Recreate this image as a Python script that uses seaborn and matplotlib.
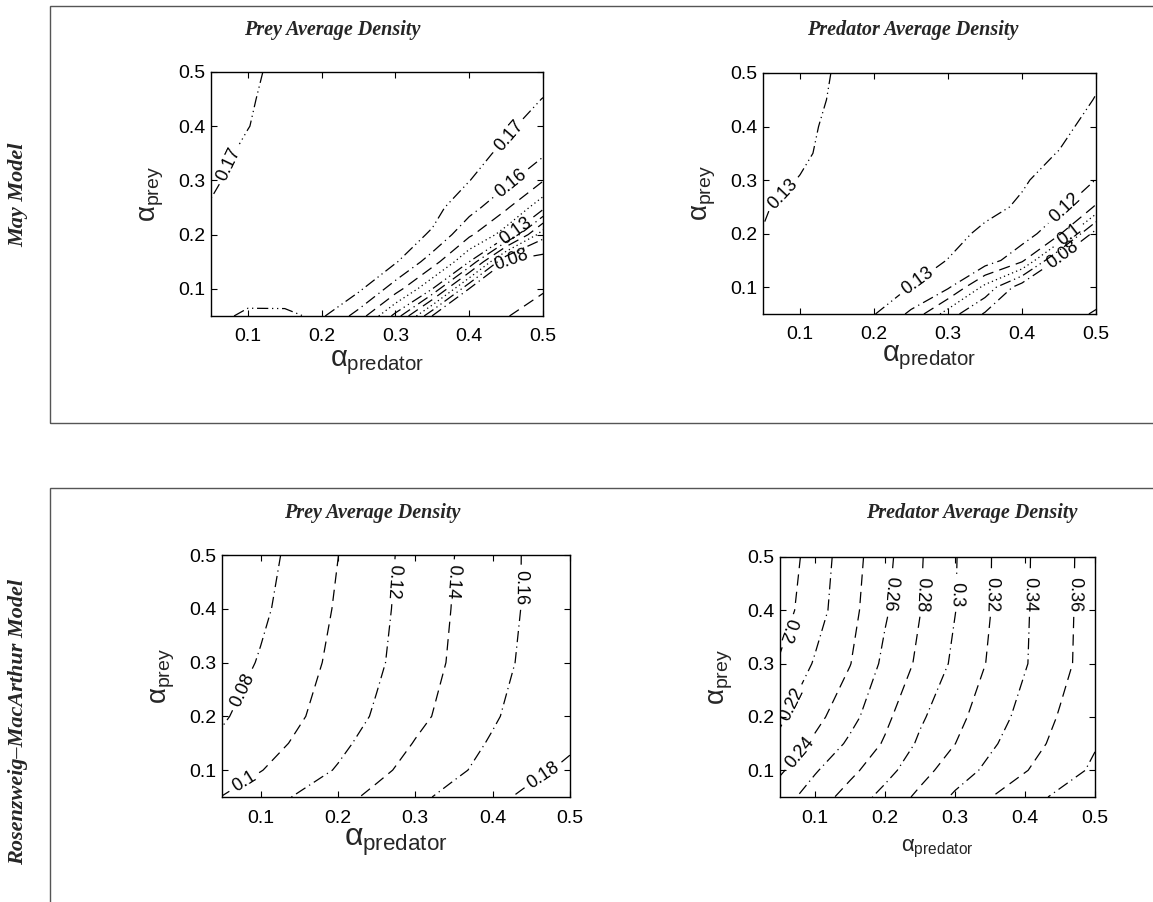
import numpy as np
import matplotlib
matplotlib.use('Agg')
import matplotlib.pyplot as plt
from matplotlib.patches import Rectangle
import seaborn as sns

# grid of the parameter sweep
alpha_predator = [0.05, 0.10, 0.15, 0.20, 0.25, 0.30, 0.35, 0.40, 0.45, 0.50]
alpha_prey_may = [0.05, 0.10, 0.15, 0.20, 0.25, 0.30, 0.35, 0.40, 0.45, 0.50]
alpha_prey_rm = [0.05, 0.10, 0.15, 0.20, 0.30, 0.40, 0.50]

# May model, prey average density (rows = alpha_prey, cols = alpha_predator)
may_prey = [
    [0.1720, 0.1688, 0.1685, 0.1715, 0.1560, 0.1267, 0.0795, 0.0750, 0.0705, 0.0650],
    [0.1710, 0.1730, 0.1740, 0.1740, 0.1720, 0.1550, 0.1300, 0.0795, 0.0750, 0.0710],
    [0.1715, 0.1740, 0.1750, 0.1750, 0.1740, 0.1710, 0.1550, 0.1300, 0.0780, 0.0750],
    [0.1720, 0.1745, 0.1755, 0.1755, 0.1752, 0.1745, 0.1690, 0.1520, 0.1350, 0.0930],
    [0.1705, 0.1750, 0.1760, 0.1760, 0.1755, 0.1748, 0.1730, 0.1640, 0.1515, 0.1330],
    [0.1690, 0.1725, 0.1765, 0.1765, 0.1760, 0.1752, 0.1735, 0.1702, 0.1625, 0.1505],
    [0.1675, 0.1715, 0.1755, 0.1765, 0.1765, 0.1760, 0.1745, 0.1725, 0.1685, 0.1615],
    [0.1655, 0.1698, 0.1735, 0.1755, 0.1762, 0.1765, 0.1760, 0.1745, 0.1715, 0.1660],
    [0.1645, 0.1692, 0.1728, 0.1750, 0.1760, 0.1765, 0.1765, 0.1755, 0.1740, 0.1698],
    [0.1640, 0.1685, 0.1722, 0.1745, 0.1758, 0.1765, 0.1768, 0.1765, 0.1755, 0.1735],
]

# May model, predator average density
may_pred = [
    [0.1315, 0.1320, 0.1325, 0.1305, 0.1180, 0.0950, 0.0788, 0.0756, 0.0725, 0.0694],
    [0.1310, 0.1325, 0.1335, 0.1335, 0.1298, 0.1215, 0.0970, 0.0740, 0.0735, 0.0730],
    [0.1305, 0.1325, 0.1340, 0.1345, 0.1335, 0.1298, 0.1260, 0.1120, 0.0770, 0.0740],
    [0.1302, 0.1325, 0.1345, 0.1350, 0.1345, 0.1325, 0.1285, 0.1255, 0.1120, 0.0750],
    [0.1295, 0.1320, 0.1340, 0.1350, 0.1350, 0.1340, 0.1320, 0.1290, 0.1225, 0.1090],
    [0.1285, 0.1302, 0.1325, 0.1340, 0.1345, 0.1340, 0.1330, 0.1308, 0.1270, 0.1198],
    [0.1275, 0.1292, 0.1315, 0.1330, 0.1340, 0.1340, 0.1335, 0.1320, 0.1298, 0.1245],
    [0.1270, 0.1285, 0.1315, 0.1325, 0.1335, 0.1340, 0.1340, 0.1332, 0.1315, 0.1280],
    [0.1265, 0.1280, 0.1308, 0.1322, 0.1332, 0.1338, 0.1340, 0.1335, 0.1322, 0.1298],
    [0.1260, 0.1275, 0.1305, 0.1320, 0.1330, 0.1335, 0.1338, 0.1335, 0.1325, 0.1308],
]

# Rosenzweig-MacArthur model, prey average density
rm_prey = [
    [0.1005, 0.1110, 0.1223, 0.1338, 0.1448, 0.1558, 0.1654, 0.1744, 0.1856, 0.1956],
    [0.0880, 0.0993, 0.1103, 0.1216, 0.1353, 0.1466, 0.1566, 0.1660, 0.1750, 0.1844],
    [0.0830, 0.0914, 0.1033, 0.1152, 0.1280, 0.1410, 0.1516, 0.1620, 0.1720, 0.1765],
    [0.0780, 0.0880, 0.0980, 0.1099, 0.1223, 0.1350, 0.1468, 0.1578, 0.1688, 0.1780],
    [0.0702, 0.0816, 0.0930, 0.1048, 0.1170, 0.1300, 0.1426, 0.1536, 0.1646, 0.1756],
    [0.0636, 0.0764, 0.0892, 0.1020, 0.1150, 0.1280, 0.1410, 0.1520, 0.1630, 0.1750],
    [0.0595, 0.0730, 0.0865, 0.0998, 0.1135, 0.1270, 0.1398, 0.1514, 0.1630, 0.1740],
]

# Rosenzweig-MacArthur model, predator average density
rm_pred = [
    [0.2513, 0.2695, 0.2881, 0.3067, 0.3246, 0.3432, 0.3594, 0.3719, 0.3842, 0.3966],
    [0.2370, 0.2582, 0.2750, 0.2930, 0.3129, 0.3300, 0.3448, 0.3589, 0.3712, 0.3834],
    [0.2240, 0.2440, 0.2636, 0.2822, 0.3033, 0.3198, 0.3367, 0.3514, 0.3656, 0.3785],
    [0.2172, 0.2340, 0.2538, 0.2756, 0.2970, 0.3143, 0.3306, 0.3464, 0.3615, 0.3765],
    [0.2020, 0.2218, 0.2393, 0.2646, 0.2840, 0.3038, 0.3223, 0.3387, 0.3544, 0.3700],
    [0.1913, 0.2121, 0.2335, 0.2575, 0.2795, 0.2995, 0.3195, 0.3379, 0.3538, 0.3694],
    [0.1870, 0.2093, 0.2311, 0.2541, 0.2781, 0.2988, 0.3192, 0.3375, 0.3534, 0.3691],
]

may_prey_levels = [0.07, 0.08, 0.09, 0.10, 0.11, 0.12, 0.13, 0.14, 0.15, 0.16, 0.17]
may_pred_levels = [0.07, 0.08, 0.09, 0.10, 0.11, 0.12, 0.13]
rm_prey_levels = [0.08, 0.10, 0.12, 0.14, 0.16, 0.18]
rm_pred_levels = [0.20, 0.22, 0.24, 0.26, 0.28, 0.30, 0.32, 0.34, 0.36, 0.38]

may_prey_labeled = [0.08, 0.13, 0.16, 0.17]
may_pred_labeled = [0.08, 0.10, 0.12, 0.13]
rm_prey_labeled = [0.08, 0.10, 0.12, 0.14, 0.16, 0.18]
rm_pred_labeled = [0.20, 0.22, 0.24, 0.26, 0.28, 0.30, 0.32, 0.34, 0.36]

# line styles (MATLAB-like black contour lines)
DASH = (0, (9, 5))
DASHDOT = (0, (9, 3.5, 1, 3.5))
DASHDOTDOT = (0, (9, 3, 1, 3, 1, 3))
DOT = (0, (1, 2.5))
top_cycle = [DASH, DASHDOT, DASHDOTDOT, DOT]

sns.set_style('ticks')
plt.rcParams['font.family'] = ['Liberation Sans', 'DejaVu Sans']
plt.rcParams['mathtext.fontset'] = 'custom'
plt.rcParams['mathtext.rm'] = 'Liberation Sans'
plt.rcParams['mathtext.it'] = 'Liberation Sans'
plt.rcParams['mathtext.bf'] = 'Liberation Sans:bold'


def fmt(v):
    return f'{v:.2f}'.rstrip('0')


def is_in(v, seq):
    return any(abs(v - q) < 1e-9 for q in seq)


def draw_panel(ax, ygrid, table, levels, styles, labeled, spots, xsize, ysize, xpad=0):
    z = np.array(table)
    plain = [(lv, st) for lv, st in zip(levels, styles) if not is_in(lv, labeled)]
    named = [(lv, st) for lv, st in zip(levels, styles) if is_in(lv, labeled)]
    if plain:
        ax.contour(alpha_predator, ygrid, z, levels=[p[0] for p in plain],
                   colors='k', linewidths=0.9, linestyles=[p[1] for p in plain])
    cs = ax.contour(alpha_predator, ygrid, z, levels=[p[0] for p in named],
                    colors='k', linewidths=0.9, linestyles=[p[1] for p in named])
    texts = ax.clabel(cs, manual=spots, inline=True, fontsize=13, fmt=fmt)
    # MATLAB writes labels on upright lines reading downwards
    for t in texts:
        r = t.get_rotation()
        if 70 < r < 110:
            t.set_rotation(r + 180)
    ax.set_xlim(0.05, 0.5)
    ax.set_ylim(0.05, 0.5)
    ax.set_xticks([0.1, 0.2, 0.3, 0.4, 0.5])
    ax.set_yticks([0.1, 0.2, 0.3, 0.4, 0.5])
    ax.tick_params(direction='in', top=True, right=True, length=4, width=0.8,
                   labelsize=14, colors='k')
    ax.tick_params(axis='x', pad=9)
    ax.tick_params(axis='y', pad=4)
    for s in ax.spines.values():
        s.set_linewidth(1.0)
        s.set_color('k')
    ax.set_xlabel(r'$\alpha_{\mathrm{predator}}$', fontsize=xsize, labelpad=xpad)
    ax.set_ylabel(r'$\alpha_{\mathrm{prey}}$', fontsize=ysize, labelpad=9)


fig = plt.figure(figsize=(11.53, 9.02), dpi=100)

# the two framed blocks
for (x0, y0, w, h) in [(0.0434, 0.531, 1.0, 0.4625), (0.0434, -0.05, 1.0, 0.509)]:
    fig.add_artist(Rectangle((x0, y0), w, h, transform=fig.transFigure,
                             fill=False, edgecolor='#555555', linewidth=1.0))

ax_tl = fig.add_axes([0.183, 0.6497, 0.288, 0.2705])
ax_tr = fig.add_axes([0.6618, 0.6519, 0.2888, 0.2672])
ax_bl = fig.add_axes([0.1925, 0.1164, 0.3018, 0.2683])
ax_br = fig.add_axes([0.6765, 0.1164, 0.2732, 0.2661])

draw_panel(ax_tl, alpha_prey_may, may_prey, may_prey_levels,
           [top_cycle[i % 4] for i in range(len(may_prey_levels))],
           may_prey_labeled,
           [(0.075, 0.33), (0.46, 0.375), (0.462, 0.285), (0.46, 0.212), (0.455, 0.168)],
           21, 20, xpad=2)
draw_panel(ax_tr, alpha_prey_may, may_pred, may_pred_levels,
           [top_cycle[i % 4] for i in range(len(may_pred_levels))],
           may_pred_labeled,
           [(0.08, 0.27), (0.26, 0.11), (0.46, 0.245), (0.465, 0.195), (0.455, 0.16)],
           21, 20, xpad=0)
draw_panel(ax_bl, alpha_prey_rm, rm_prey, rm_prey_levels,
           [DASHDOT if i % 2 == 0 else DASH for i in range(len(rm_prey_levels))],
           rm_prey_labeled,
           [(0.075, 0.25), (0.08, 0.075), (0.275, 0.45), (0.35, 0.45), (0.437, 0.44), (0.47, 0.08)],
           23, 20, xpad=0)
draw_panel(ax_br, alpha_prey_rm, rm_pred, rm_pred_levels,
           [DASH if i % 2 == 0 else DASHDOT for i in range(len(rm_pred_levels))],
           rm_pred_labeled,
           [(0.065, 0.36), (0.072, 0.22), (0.09, 0.12), (0.207, 0.43), (0.253, 0.43),
            (0.302, 0.43), (0.352, 0.43), (0.407, 0.43), (0.47, 0.43)],
           16, 20, xpad=8)

title_font = dict(family=['Liberation Serif', 'DejaVu Serif'], style='italic',
                  weight='bold', fontsize=14.5, ha='center', va='center')
fig.text(0.288, 0.9667, 'Prey Average Density', **title_font)
fig.text(0.792, 0.9667, 'Predator Average Density', **title_font)
fig.text(0.323, 0.4313, 'Prey Average Density', **title_font)
fig.text(0.843, 0.4313, 'Predator Average Density', **title_font)

row_font = dict(family=['Liberation Serif', 'DejaVu Serif'], style='italic',
                weight='bold', fontsize=16, ha='center', va='center', rotation=90)
fig.text(0.0156, 0.7838, 'May Model', **row_font)
fig.text(0.0156, 0.1996, 'Rosenzweig\u2013MacArthur Model', **row_font)

fig.savefig('out.png', dpi=100)
